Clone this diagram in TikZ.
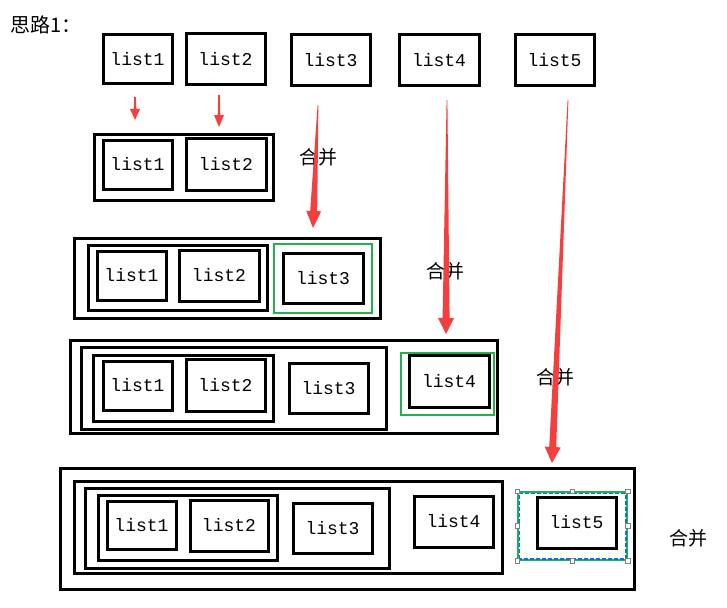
\documentclass[tikz,border=0pt]{standalone}
\usepackage{fontspec}
\setmonofont{Liberation Mono}
\newfontfamily\cjkfont{Noto Sans CJK SC}
\usetikzlibrary{fit,calc}
\definecolor{mergered}{RGB}{245,62,62}
\definecolor{pickgreen}{RGB}{34,177,76}
\definecolor{selblue}{RGB}{0,120,215}

% tapered arrow: start, tip, start half width, shaft half width, head half width, head length
\newcommand{\taperarrow}[6]{%
  \coordinate (tb) at ($(#2)!#6!(#1)$);
  \fill[mergered] ($(#1)!#3!90:(#2)$) -- ($(tb)!#4!90:(#2)$) -- ($(tb)!#5!90:(#2)$) -- (#2)
    -- ($(tb)!#5!-90:(#2)$) -- ($(tb)!#4!-90:(#2)$) -- ($(#1)!#3!-90:(#2)$) -- cycle;
}

\begin{document}
\begin{tikzpicture}[x=1pt, y=-1pt,
  box/.style={draw, line width=3pt, inner sep=0pt},
  lst/.style={box, label={[font=\ttfamily\fontsize{18}{18}\selectfont, inner sep=0pt]center:#1}},
  pick/.style={draw=pickgreen, line width=2.5pt, inner sep=0pt},
  merge/.style={font=\cjkfont\fontsize{19}{19}\selectfont},
  handle/.style={draw=gray, fill=white, line width=0.6pt, minimum size=4.5pt, inner sep=0pt}]
\useasboundingbox (0,0) rectangle (727,607);

\node[anchor=west, font=\cjkfont\fontsize{20}{20}\selectfont] (title) at (7,25) {思路1：};

% row 1
\node[lst=list1, fit={(103,35)(172,84)}] (a1) {};
\node[lst=list2, fit={(186,34)(265,85)}] (a2) {};
\node[lst=list3, fit={(291,35)(370,86)}] (a3) {};
\node[lst=list4, fit={(399,35)(479,86)}] (a4) {};
\node[lst=list5, fit={(515,35)(594,86)}] (a5) {};

% row 2
\node[box, fit={(94,134)(273,200)}] (b0) {};
\node[lst=list1, fit={(103,140)(172,189)}] (b1) {};
\node[lst=list2, fit={(186,138)(266,190)}] (b2) {};

% row 3
\node[box, fit={(74,238)(380,318)}] (c0) {};
\node[box, fit={(88,245)(267,310)}] (c01) {};
\node[lst=list1, fit={(97,251)(166,300)}] (c1) {};
\node[lst=list2, fit={(179,250)(259,301)}] (c2) {};
\node[pick, fit={(274,244)(372,313)}] (cg) {};
\node[lst=list3, fit={(283,253)(363,303)}] (c3) {};

% row 4
\node[box, fit={(70,340)(497,433)}] (d0) {};
\node[box, fit={(81,347)(386,429)}] (d01) {};
\node[box, fit={(93,355)(273,421)}] (d012) {};
\node[lst=list1, fit={(103,361)(172,410)}] (d1) {};
\node[lst=list2, fit={(186,359)(265,411)}] (d2) {};
\node[lst=list3, fit={(289,363)(368,413)}] (d3) {};
\node[pick, fit={(401,353)(494,415)}] (dg) {};
\node[lst=list4, fit={(409,355)(489,407)}] (d4) {};

% row 5
\node[box, fit={(60,468)(634,589)}] (e0) {};
\node[box, fit={(74,481)(502,573)}] (e01) {};
\node[box, fit={(85,488)(389,568)}] (e012) {};
\node[box, fit={(98,495)(277,560)}] (e0123) {};
\node[lst=list1, fit={(107,501)(176,549)}] (e1) {};
\node[lst=list2, fit={(190,500)(268,551)}] (e2) {};
\node[lst=list3, fit={(293,503)(372,553)}] (e3) {};
\node[lst=list4, fit={(414,496)(493,547)}] (e4) {};
\node[draw=pickgreen, line width=1.4pt, inner sep=0pt, fit={(518,492)(627,560)}] (sel) {};
\draw[selblue, line width=1.2pt, dash pattern=on 4pt off 2pt]
  ($(sel.south west)+(1.8,-1.8)$) rectangle ($(sel.north east)+(-1.8,1.8)$);
\foreach \a/\n in {north west/1, north/2, north east/3, east/4, south east/5, south/6, south west/7, west/8}
  \node[handle] (h\n) at (sel.\a) {};
\node[lst=list5, fit={(537,497)(616,548)}] (e5) {};

% merge labels
\node[merge] (m1) at (318,157) {合并};
\node[merge] (m2) at (445,271) {合并};
\node[merge] (m3) at (555,377) {合并};
\node[merge] (m4) at (688,538) {合并};

% arrows
\coordinate (p1s) at (135,97);  \coordinate (p1e) at (135,120);
\coordinate (p2s) at (219,95);  \coordinate (p2e) at (219,127);
\coordinate (p3s) at (318,105); \coordinate (p3e) at (313,228);
\coordinate (p4s) at (447,100); \coordinate (p4e) at (446,334);
\coordinate (p5s) at (568,100); \coordinate (p5e) at (552,463);
\taperarrow{p1s}{p1e}{0.8pt}{1.3pt}{5pt}{11pt}
\taperarrow{p2s}{p2e}{0.8pt}{1.3pt}{5pt}{12pt}
\taperarrow{p3s}{p3e}{0.4pt}{3.5pt}{7.5pt}{17pt}
\taperarrow{p4s}{p4e}{0.4pt}{3.5pt}{8pt}{16pt}
\taperarrow{p5s}{p5e}{0.4pt}{3.5pt}{8pt}{16pt}
\end{tikzpicture}
\end{document}
